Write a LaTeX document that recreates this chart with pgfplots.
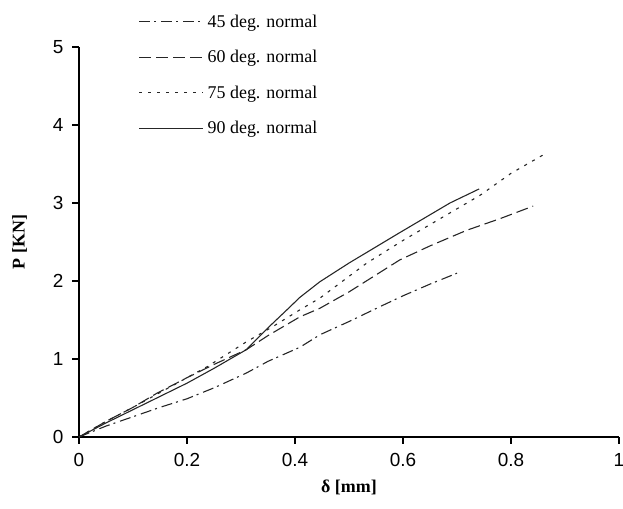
\documentclass[border=0pt]{standalone}
\usepackage{fontspec}
\setmainfont{Liberation Serif}
\newfontfamily\arial{Liberation Sans}
\usepackage{pgfplots}
\pgfplotsset{compat=1.18}
\begin{document}
\begin{tikzpicture}[x=1bp,y=1bp]
\begin{axis}[
  scale only axis, width=540bp, height=390bp,
  xmin=0, xmax=1, ymin=0, ymax=5,
  axis x line=bottom, axis y line=left,
  axis line style={-, line width=1.3pt},
  tick style={black, line width=1.3pt},
  tick align=outside, major tick length=7bp,
  xtick={0,0.2,0.4,0.6,0.8,1}, ytick={0,1,2,3,4,5},
  xticklabels={0,0.2,0.4,0.6,0.8,1},
  ticklabel style={font=\arial\fontsize{19}{22}\selectfont},
  xticklabel style={yshift=-6bp},
  yticklabel style={xshift=-5bp},
  /pgf/number format/assume math mode=true,
  xlabel={\textbf{δ [mm]}}, ylabel={\textbf{P [KN]}},
  label style={font=\fontsize{18}{21}\selectfont},
  xlabel style={yshift=-6bp},
  ylabel style={yshift=19bp},
  clip=false,
  legend style={draw=none, fill=none, at={(rel axis cs:0.11,1.088)}, anchor=north west,
    font=\fontsize{18}{21}\selectfont, row sep=17.5bp, inner sep=0pt,
    nodes={inner xsep=4bp}},
  legend cell align=left,
  legend image code/.code={\draw[#1] (0bp,0bp) -- (64bp,0bp);},
]
\coordinate (bl) at (rel axis cs:-0.1463,-0.1846);
\coordinate (tr) at (rel axis cs:1.0074,1.1205);
\addplot[black!85, line width=1.1pt, dash pattern=on 11bp off 4bp on 2bp off 5bp] coordinates {
(0,0)(0.05,0.14)(0.1,0.26)(0.15,0.38)(0.2,0.49)(0.25,0.63)(0.31,0.82)(0.35,0.97)(0.409,1.15)(0.446,1.31)(0.5,1.48)(0.557,1.67)(0.6,1.81)(0.65,1.96)(0.7,2.1)};
\addlegendentry{45 deg. normal}
\addplot[black!85, line width=1.1pt, dash pattern=on 12bp off 5bp] coordinates {
(0,0)(0.05,0.2)(0.1,0.38)(0.144,0.56)(0.2,0.76)(0.25,0.93)(0.31,1.12)(0.35,1.3)(0.409,1.54)(0.446,1.65)(0.5,1.86)(0.594,2.27)(0.65,2.45)(0.718,2.65)(0.78,2.8)(0.841,2.96)};
\addlegendentry{60 deg. normal}
\addplot[black!85, line width=1.1pt, dash pattern=on 3bp off 6bp] coordinates {
(0,0)(0.05,0.2)(0.1,0.38)(0.15,0.57)(0.2,0.76)(0.237,0.9)(0.31,1.22)(0.36,1.42)(0.409,1.63)(0.446,1.78)(0.533,2.23)(0.6,2.52)(0.743,3.1)(0.8,3.38)(0.868,3.65)};
\addlegendentry{75 deg. normal}
\addplot[black!85, line width=1.1pt] coordinates {
(0,0)(0.05,0.18)(0.1,0.35)(0.15,0.52)(0.2,0.69)(0.25,0.88)(0.31,1.12)(0.35,1.4)(0.385,1.63)(0.409,1.79)(0.446,1.99)(0.5,2.23)(0.594,2.62)(0.687,3.0)(0.741,3.18)};
\addlegendentry{90 deg. normal}
\end{axis}
\pgfresetboundingbox
\path (bl) rectangle (tr);
\end{tikzpicture}
\end{document}
